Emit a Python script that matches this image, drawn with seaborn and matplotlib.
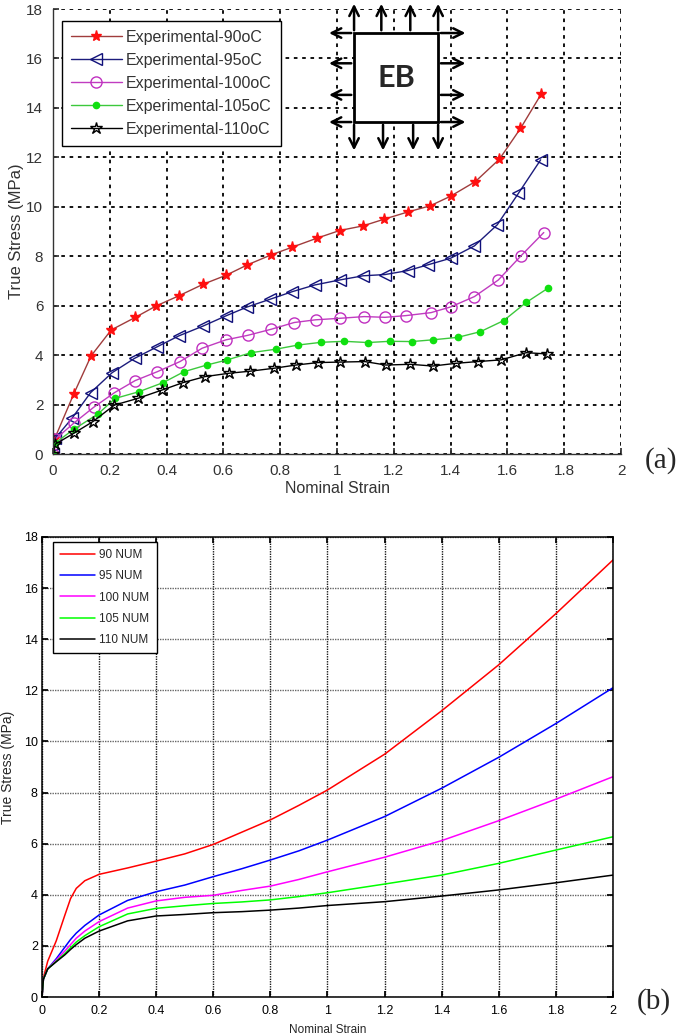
import matplotlib
matplotlib.use("Agg")
import matplotlib.pyplot as plt
import seaborn as sns
import numpy as np
import pandas as pd
from matplotlib.patches import Rectangle

sns.set_theme(style="white")
plt.rcParams['font.family'] = ['Liberation Sans', 'DejaVu Sans']

# ---- (a) experimental data ----
x90 = [0, 0.005, 0.073, 0.134, 0.205, 0.29, 0.363, 0.443, 0.529, 0.609, 0.684, 0.769, 0.843,
       0.929, 1.009, 1.092, 1.166, 1.249, 1.328, 1.40, 1.487, 1.572, 1.646, 1.719]
y90 = [0, 0.6, 2.43, 3.97, 5.02, 5.53, 5.99, 6.40, 6.87, 7.23, 7.65, 8.06, 8.37,
       8.73, 9.04, 9.23, 9.50, 9.79, 10.04, 10.43, 11.02, 11.93, 13.17, 14.56]
x95 = [0, 0.008, 0.067, 0.132, 0.208, 0.287, 0.367, 0.443, 0.529, 0.609, 0.684, 0.764, 0.843,
       0.922, 1.009, 1.092, 1.169, 1.249, 1.319, 1.40, 1.484, 1.564, 1.639, 1.717]
y95 = [0, 0.64, 1.45, 2.48, 3.29, 3.87, 4.34, 4.78, 5.18, 5.59, 5.95, 6.26, 6.57,
       6.84, 7.04, 7.21, 7.26, 7.42, 7.65, 7.92, 8.42, 9.27, 10.55, 11.90]
x100 = [0, 0.008, 0.073, 0.143, 0.216, 0.289, 0.367, 0.447, 0.525, 0.609, 0.685, 0.769, 0.849,
        0.925, 1.009, 1.096, 1.169, 1.243, 1.331, 1.40, 1.484, 1.568, 1.648, 1.728]
y100 = [0, 0.6, 1.25, 1.89, 2.48, 2.97, 3.33, 3.74, 4.28, 4.62, 4.80, 5.05, 5.32,
        5.43, 5.49, 5.56, 5.53, 5.60, 5.72, 5.95, 6.37, 7.04, 8.02, 8.96]
x105 = [0, 0.008, 0.073, 0.157, 0.219, 0.302, 0.388, 0.461, 0.541, 0.614, 0.697, 0.784, 0.863,
        0.945, 1.025, 1.108, 1.186, 1.264, 1.337, 1.425, 1.505, 1.587, 1.666, 1.743]
y105 = [0, 0.45, 1.0, 1.61, 2.25, 2.52, 2.89, 3.33, 3.60, 3.81, 4.10, 4.24, 4.41,
        4.52, 4.56, 4.51, 4.56, 4.55, 4.62, 4.72, 4.95, 5.40, 6.13, 6.71]
x110 = [0, 0.008, 0.073, 0.140, 0.216, 0.298, 0.384, 0.458, 0.534, 0.621, 0.693, 0.778, 0.855,
        0.933, 1.009, 1.098, 1.172, 1.258, 1.337, 1.419, 1.495, 1.578, 1.666, 1.739]
y110 = [0, 0.4, 0.84, 1.31, 1.98, 2.25, 2.59, 2.89, 3.13, 3.27, 3.35, 3.47, 3.60,
        3.70, 3.72, 3.74, 3.60, 3.63, 3.56, 3.67, 3.74, 3.81, 4.10, 4.05]

# ---- (b) numerical data ----
xnum = [0, 0.005, 0.02, 0.05, 0.08, 0.1, 0.12, 0.15, 0.2, 0.3, 0.4, 0.5, 0.6, 0.7, 0.8, 0.9,
        1.0, 1.2, 1.4, 1.6, 1.8, 2.0]
n90 = [0, 0.75, 1.4, 2.2, 3.2, 3.85, 4.25, 4.55, 4.8, 5.05, 5.32, 5.6, 5.97, 6.45, 6.93, 7.5,
       8.1, 9.5, 11.2, 13.0, 15.0, 17.1]
n95 = [0, 0.7, 1.1, 1.5, 1.95, 2.25, 2.5, 2.8, 3.21, 3.78, 4.12, 4.38, 4.71, 5.02, 5.36, 5.72,
       6.14, 7.06, 8.17, 9.38, 10.7, 12.1]
n100 = [0, 0.7, 1.1, 1.45, 1.8, 2.05, 2.3, 2.58, 2.95, 3.48, 3.76, 3.9, 3.98, 4.17, 4.34, 4.6,
        4.9, 5.47, 6.12, 6.9, 7.74, 8.62]
n105 = [0, 0.7, 1.1, 1.4, 1.7, 1.93, 2.15, 2.4, 2.75, 3.25, 3.47, 3.57, 3.66, 3.72, 3.8, 3.93,
        4.08, 4.42, 4.77, 5.23, 5.75, 6.27]
n110 = [0, 0.7, 1.1, 1.38, 1.65, 1.86, 2.05, 2.3, 2.58, 2.98, 3.17, 3.23, 3.30, 3.34, 3.4, 3.48,
        3.58, 3.73, 3.95, 4.19, 4.47, 4.77]

exp_labels = ['Experimental-90oC', 'Experimental-95oC', 'Experimental-100oC',
              'Experimental-105oC', 'Experimental-110oC']
num_labels = ['90 NUM', '95 NUM', '100 NUM', '105 NUM', '110 NUM']
xticks = [0, 0.2, 0.4, 0.6, 0.8, 1, 1.2, 1.4, 1.6, 1.8, 2]
xticklabels = ['0', '0.2', '0.4', '0.6', '0.8', '1', '1.2', '1.4', '1.6', '1.8', '2']
yticks = [0, 2, 4, 6, 8, 10, 12, 14, 16, 18]

fig = plt.figure(figsize=(6.85, 10.35), dpi=100)
ax1 = fig.add_axes([0.0774, 0.5613, 0.8292, 0.4300])
ax2 = fig.add_axes([0.0613, 0.0367, 0.8336, 0.4445])

# styles for experimental curves: (line color, marker, marker size, face, edge)
exp_styles = [
    ('#a03c3c', '*', 8, '#ff1010', '#ff1010'),
    ('#1c1c7c', '<', 8, 'none', '#10107a'),
    ('#c03cc0', 'o', 8, 'none', '#c030c0'),
    ('#3cc83c', 'o', 4.5, '#10e010', '#10e010'),
    ('#000000', '*', 9, 'none', '#000000'),
]
exp_data = [(x90, y90), (x95, y95), (x100, y100), (x105, y105), (x110, y110)]

for (xs, ys), lab, (lc, mk, ms, mfc, mec) in zip(exp_data, exp_labels, exp_styles):
    sns.lineplot(x=xs, y=ys, ax=ax1, color=lc, lw=1.0, sort=False, estimator=None,
                 marker=mk, markersize=ms, markerfacecolor=mfc, markeredgecolor=mec,
                 markeredgewidth=1.0, label=lab)

ax1.set_xlim(0, 2)
ax1.set_ylim(0, 18)
ax1.set_xticks(xticks)
ax1.set_xticklabels(xticklabels)
ax1.set_yticks(yticks)
ax1.grid(True, color='black', linestyle=(0, (2, 2.6)), linewidth=1.3)
for s in ['top', 'right']:
    ax1.spines[s].set_visible(False)
for s in ['left', 'bottom']:
    ax1.spines[s].set_color('#333333')
    ax1.spines[s].set_linewidth(1.0)
ax1.tick_params(direction='in', length=4, labelsize=11, colors='#333333', pad=7,
                left=True, bottom=True)
ax1.set_xlabel('Nominal Strain', fontsize=11.5, color='#333333', labelpad=2)
ax1.set_ylabel('True Stress (MPa)', fontsize=12, color='#333333', labelpad=2)
leg1 = ax1.legend(loc='upper left', bbox_to_anchor=(0.016, 0.973), borderaxespad=0,
                  fontsize=11.5, handlelength=3.2, labelspacing=0.5, frameon=True,
                  fancybox=False, edgecolor='black', framealpha=1, borderpad=0.55,
                  handletextpad=0.25)
leg1.get_frame().set_linewidth(1.0)
for t in leg1.get_texts():
    t.set_color('#333333')

# EB inset sketch (axes fraction coordinates)
sq_l, sq_r, sq_b, sq_t = 0.530, 0.678, 0.746, 0.946
ax1.add_patch(Rectangle((sq_l, sq_b), sq_r - sq_l, sq_t - sq_b, transform=ax1.transAxes,
                        fill=True, facecolor='white', edgecolor='black', lw=2, zorder=5,
                        clip_on=False))
ax1.text((sq_l + sq_r) / 2, (sq_b + sq_t) / 2, 'EB', transform=ax1.transAxes,
         ha='center', va='center', fontsize=22, fontweight='bold', family='Lato', zorder=6)
arrow_kw = dict(arrowstyle='->', lw=1.8, color='black', mutation_scale=17)
for xf in [sq_l, 0.578, 0.629, sq_r]:
    ax1.annotate('', xy=(xf, 1.018), xytext=(xf, sq_t), xycoords='axes fraction',
                 arrowprops=arrow_kw, annotation_clip=False, zorder=6)
for xf in [sq_l, 0.581, 0.634, sq_r]:
    ax1.annotate('', xy=(xf, 0.676), xytext=(xf, sq_b), xycoords='axes fraction',
                 arrowprops=arrow_kw, annotation_clip=False, zorder=6)
for yf in [sq_t, 0.878, 0.807, sq_b]:
    ax1.annotate('', xy=(0.481, yf), xytext=(sq_l, yf), xycoords='axes fraction',
                 arrowprops=arrow_kw, annotation_clip=False, zorder=6)
    ax1.annotate('', xy=(0.731, yf), xytext=(sq_r, yf), xycoords='axes fraction',
                 arrowprops=arrow_kw, annotation_clip=False, zorder=6)

fig.text(0.965, 0.555, '(a)', fontsize=21, family='Liberation Serif', ha='center', va='center')

# ---- (b) ----
num_colors = ['#ff0000', '#0000ff', '#ff00ff', '#00ff00', '#000000']
num_data = [n90, n95, n100, n105, n110]
df = pd.DataFrame({
    'strain': np.tile(xnum, 5),
    'stress': np.concatenate(num_data),
    'series': np.repeat(num_labels, len(xnum)),
})
sns.lineplot(data=df, x='strain', y='stress', hue='series', palette=num_colors, ax=ax2,
             lw=1.1, sort=False, estimator=None)

ax2.set_xlim(0, 2)
ax2.set_ylim(0, 18)
ax2.set_xticks(xticks)
ax2.set_xticklabels(xticklabels)
ax2.set_yticks(yticks)
ax2.xaxis.grid(True, color='#1a1a1a', linestyle=(0, (1, 0.8)), linewidth=1.0)
ax2.yaxis.grid(True, color='#666666', linestyle=(0, (1, 0.8)), linewidth=1.0)
for s in ax2.spines.values():
    s.set_color('black')
    s.set_linewidth(1.1)
ax2.tick_params(direction='in', length=4, labelsize=9, colors='black', pad=3,
                left=True, bottom=True, right=True, top=True, labelright=False,
                labeltop=False)
ax2.tick_params(axis='x', pad=6)
ax2.set_xlabel('Nominal Strain', fontsize=8.5, labelpad=5)
ax2.set_ylabel('True Stress (MPa)', fontsize=10, labelpad=6)
leg2 = ax2.legend(loc='upper left', bbox_to_anchor=(0.019, 0.989), borderaxespad=0,
                  fontsize=8.5, handlelength=3.0, labelspacing=0.78, frameon=True,
                  fancybox=False, edgecolor='black', framealpha=1, borderpad=0.6,
                  handletextpad=0.35)
leg2.get_frame().set_linewidth(1.0)

fig.text(0.955, 0.032, '(b)', fontsize=21, family='Liberation Serif', ha='center', va='center')

fig.savefig('out.png', dpi=100)
